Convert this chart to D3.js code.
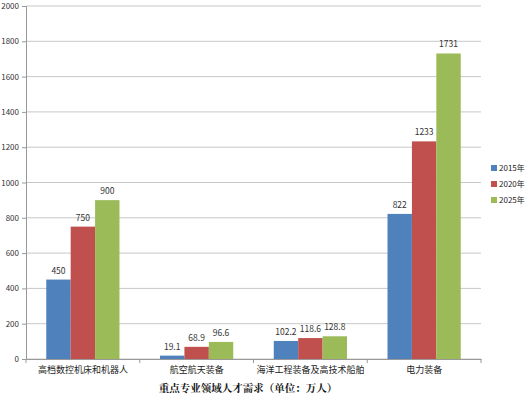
<!DOCTYPE html>
<html><head><meta charset="utf-8">
<script src="https://cdn.jsdelivr.net/npm/d3@7"></script>
<style>body{margin:0;background:#fff}</style>
</head><body><div id="chart"></div>
<script>
const categories = ['高档数控机床和机器人', '航空航天装备', '海洋工程装备及高技术船舶', '电力装备']
const seriesNames = ['2015年', '2020年', '2025年']
const v2015 = [450, 19.1, 102.2, 822]
const v2020 = [750, 68.9, 118.6, 1233]
const v2025 = [900, 96.6, 128.8, 1731]
const yTicks = [0, 200, 400, 600, 800, 1000, 1200, 1400, 1600, 1800, 2000]
const colors = ['#4f81bd', '#c0504d', '#9bbb59']
const series = [v2015, v2020, v2025]

const width = 530, height = 401
const m = {left: 26, right: 49, top: 6, bottom: 42}
const font = '"Noto Sans CJK SC", sans-serif'

const svg = d3.select('#chart').append('svg')
  .attr('width', width).attr('height', height)
  .style('font-family', font)

const x = d3.scaleBand().domain(categories).range([m.left, width - m.right])
const xi = d3.scaleBand().domain(seriesNames).range([0, x.bandwidth()]).paddingOuter(0.83).paddingInner(0)
const y = d3.scaleLinear().domain([0, 2000]).range([height - m.bottom, m.top])

// grid
svg.append('g').selectAll('line').data(yTicks).join('line')
  .attr('x1', m.left).attr('x2', width - m.right)
  .attr('y1', d => y(d)).attr('y2', d => y(d))
  .attr('stroke', '#c8c8c8')

const yAxis = svg.append('g').attr('transform', `translate(${m.left},0)`)
  .call(d3.axisLeft(y).tickValues(yTicks).tickFormat(d3.format('d')).tickSize(4).tickPadding(3))
yAxis.select('.domain').attr('stroke', '#999')
yAxis.selectAll('line').attr('stroke', '#999')
yAxis.selectAll('text').style('font-family', font).style('font-size', '8px').attr('fill', '#333')

const groups = svg.append('g').selectAll('g').data(categories).join('g')
  .attr('transform', d => `translate(${x(d)},0)`)

seriesNames.forEach((s, si) => {
  groups.append('rect')
    .attr('x', xi(s)).attr('width', xi.bandwidth())
    .attr('y', (d, i) => y(series[si][i]))
    .attr('height', (d, i) => y(0) - y(series[si][i]))
    .attr('fill', colors[si])
  groups.append('text')
    .attr('x', xi(s) + xi.bandwidth() / 2)
    .attr('y', (d, i) => y(series[si][i]) - 6)
    .attr('text-anchor', 'middle').style('font-size', '8.5px').attr('fill', '#333')
    .text((d, i) => series[si][i])
})

const xAxis = svg.append('g').attr('transform', `translate(0,${y(0)})`)
  .call(d3.axisBottom(x).tickSize(0).tickPadding(8))
xAxis.select('.domain').attr('stroke', '#999')
xAxis.selectAll('text').style('font-family', font).style('font-size', '9px').attr('fill', '#222')
svg.append('g').selectAll('line').data(d3.range(categories.length + 1)).join('line')
  .attr('x1', i => m.left + i * x.step()).attr('x2', i => m.left + i * x.step())
  .attr('y1', y(0)).attr('y2', y(0) + 4).attr('stroke', '#999')

svg.append('text').attr('x', 248).attr('y', 392).attr('text-anchor', 'middle')
  .style('font-size', '10.5px').style('font-weight', 'bold').attr('fill', '#111')
  .style('font-family', '"Noto Serif CJK SC", "Noto Sans CJK SC", serif')
  .text('重点专业领域人才需求（单位：万人）')

const legend = svg.append('g').attr('transform', 'translate(491,165)')
seriesNames.forEach((s, i) => {
  const g = legend.append('g').attr('transform', `translate(0,${i * 16})`)
  g.append('rect').attr('width', 6).attr('height', 6).attr('fill', colors[i])
  g.append('text').attr('x', 8).attr('y', 6).style('font-size', '8px').attr('fill', '#222').text(s)
})
</script></body></html>
